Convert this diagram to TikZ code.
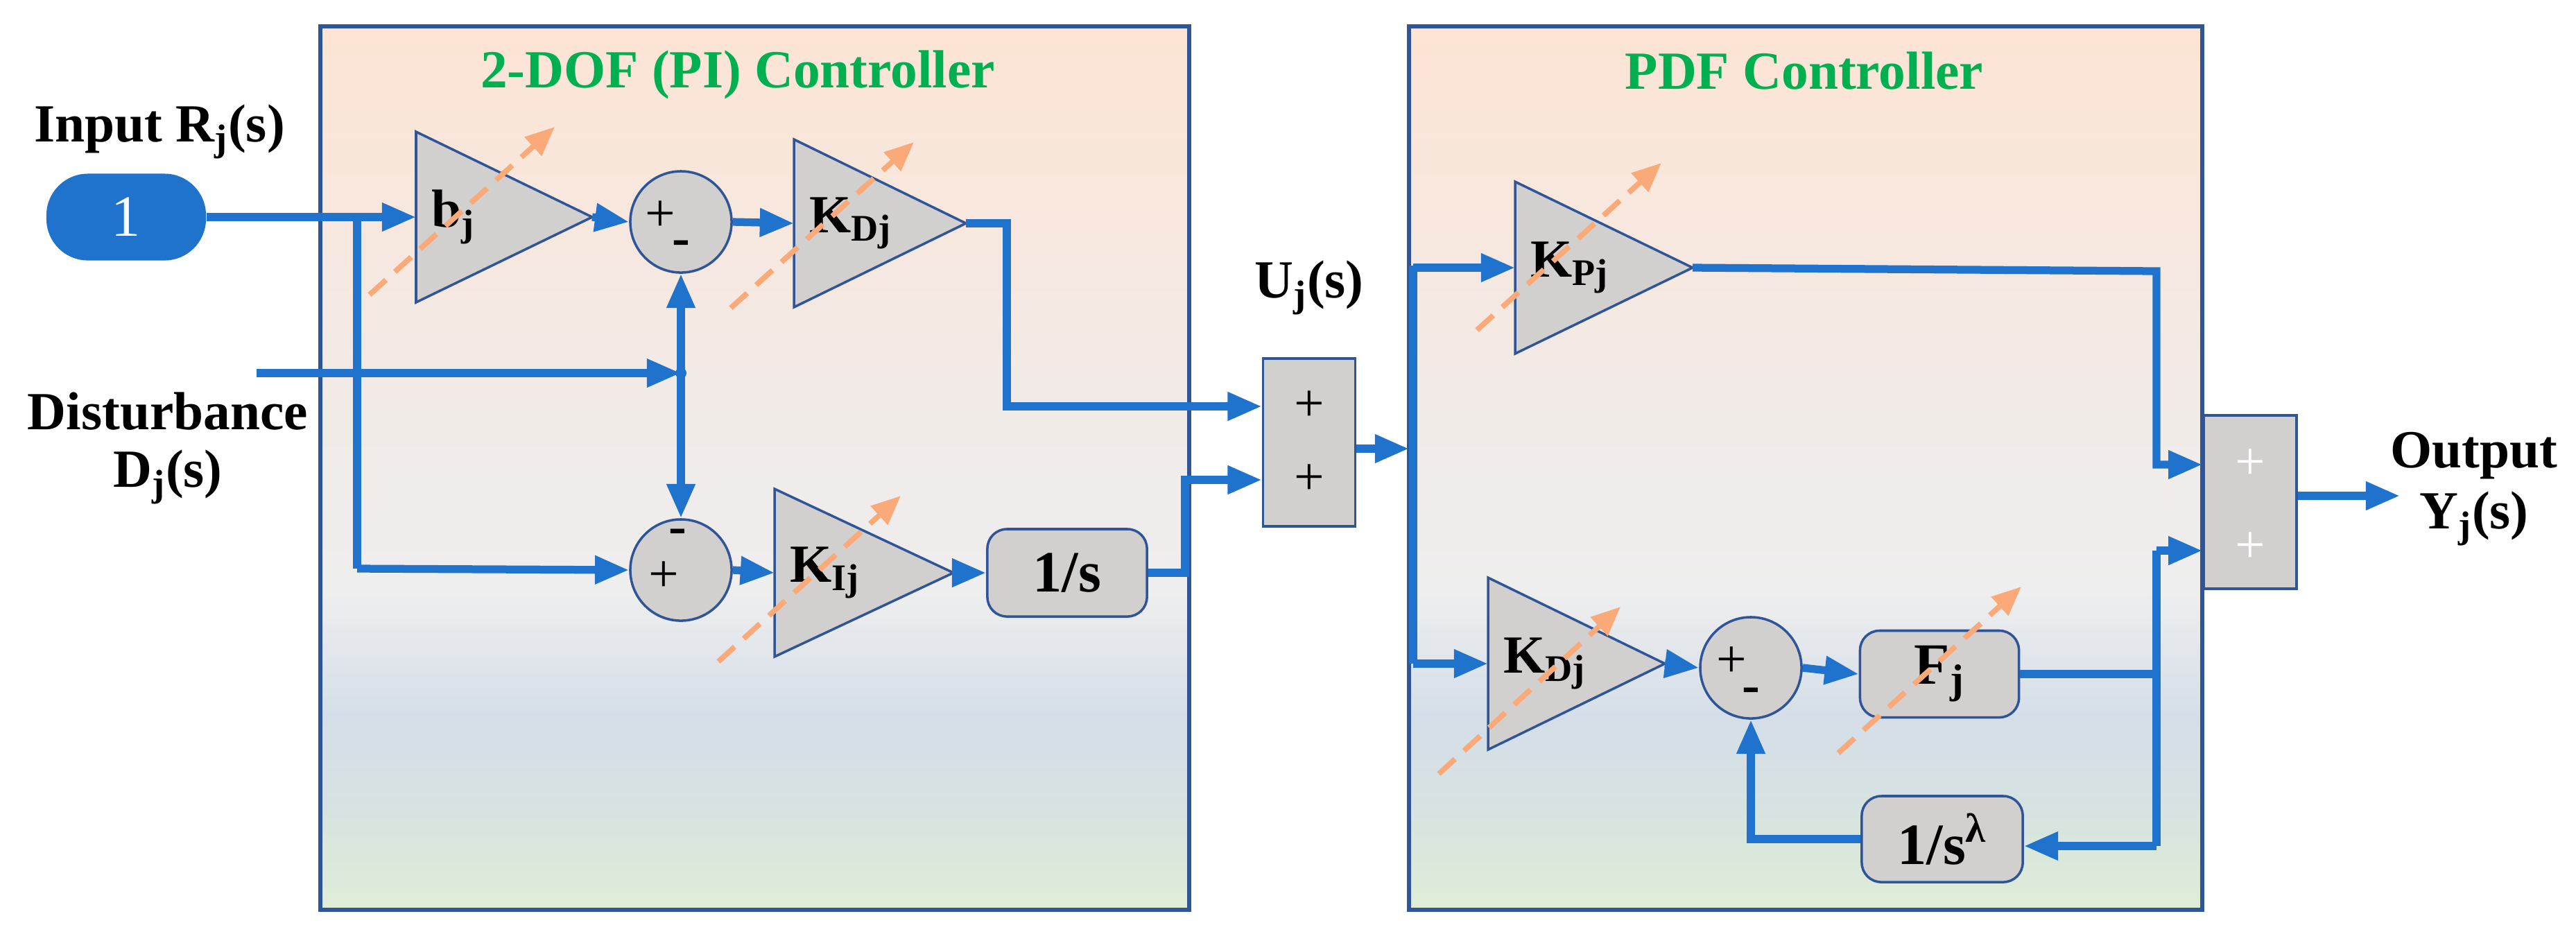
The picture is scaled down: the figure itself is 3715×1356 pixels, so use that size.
\documentclass[tikz,border=0pt]{standalone}
\usepackage{fontspec}
\setmainfont{Liberation Serif}
\usetikzlibrary{arrows.meta,calc}
\definecolor{ln}{RGB}{31,115,205}
\definecolor{bord}{RGB}{47,85,151}
\definecolor{gfill}{RGB}{210,207,207}
\definecolor{dash}{RGB}{250,170,120}
\definecolor{ttl}{RGB}{0,176,80}
\pgfdeclareverticalshading{bg}{100bp}{color(0bp)=(rgb,255:red,222;green,238;blue,214); color(25bp)=(rgb,255:red,222;green,238;blue,214); color(31bp)=(rgb,255:red,214;green,226;blue,226); color(36bp)=(rgb,255:red,213;green,222;blue,232); color(43bp)=(rgb,255:red,238;green,238;blue,238); color(55bp)=(rgb,255:red,242;green,234;blue,230); color(75bp)=(rgb,255:red,253;green,228;blue,212); color(100bp)=(rgb,255:red,253;green,228;blue,212)}
\tikzset{
 w/.style={draw=ln,line width=3.2pt},
 a/.style={w,-{Triangle[length=14pt,width=11pt]}},
 sm/.style={circle,draw=bord,fill=gfill,line width=1pt,minimum size=1.46cm,inner sep=0pt},
 bx/.style={draw=bord,fill=gfill,line width=1pt,rounded corners=8pt,inner sep=0pt,font=\bfseries\fontsize{24}{24}\selectfont},
 gn/.style={draw=bord,fill=gfill,line width=1pt},
 dsh/.style={draw=dash,line width=2.2pt,dash pattern=on 9pt off 5pt,-{Triangle[length=12pt,width=10pt]}},
 lb/.style={font=\bfseries\fontsize{22}{24}\selectfont},
 ttlst/.style={font=\bfseries\fontsize{22}{24}\selectfont,text=ttl},
 pm/.style={font=\fontsize{22}{22}\selectfont}
}
\begin{document}
\begin{tikzpicture}[x=0.01cm,y=-0.01cm]
\useasboundingbox (0,0) rectangle (3715,1356);
% panels
\shade[shading=bg,draw=bord,line width=1.6pt] (462,38) rectangle (1715,1312);
\shade[shading=bg,draw=bord,line width=1.6pt] (2032,38) rectangle (3176,1312);
\node[ttlst] (t1) at (1064,108) {2-DOF (PI) Controller};
\node[ttlst] (t2) at (2602,102) {PDF Controller};
% gains
\newcommand\gainblk[6]{% name,left,top,tip,bottom,label
 \path[gn] (#2,#3) -- (#4,{(#3+#5)/2}) -- (#2,#5) -- cycle;
 \coordinate (#1-in) at (#2,{(#3+#5)/2});
 \coordinate (#1-out) at (#4,{(#3+#5)/2});
 \node[lb,anchor=west] (#1-l) at ({#2+10},{(#3+#5)/2}) {#6};}
\gainblk{b}{600}{190}{854}{436}{b\textsubscript{j}}
\gainblk{kd}{1145}{201}{1393}{443}{K\textsubscript{Dj}}
\gainblk{ki}{1117}{705}{1375}{947}{K\textsubscript{Ij}}
\gainblk{kp}{2185}{262}{2441}{510}{K\textsubscript{Pj}}
\gainblk{kd2}{2146}{833}{2401}{1081}{K\textsubscript{Dj}}
% summers
\node[sm] (s1) at (982,320) {};
\node[pm] at ($(s1)+(-30,-8)$) {+};
\node[lb] at ($(s1)+(0,38)$) {-};
\node[sm] (s2) at (982,822) {};
\node[pm] at ($(s2)+(-25,10)$) {+};
\node[lb] at ($(s2)+(-5,-48)$) {-};
\node[sm] (s3) at (2525,963) {};
\node[pm] at ($(s3)+(-28,-8)$) {+};
\node[lb] at ($(s3)+(0,40)$) {-};
\node[bx,minimum width=2.3cm,minimum height=1.26cm] (is) at (1539,826) {1/s};
\node[bx,minimum width=2.29cm,minimum height=1.25cm] (fj) at (2797,972) {F\textsubscript{j}};
\node[bx,minimum width=2.32cm,minimum height=1.24cm] (sl) at (2801,1210) {1/s\textsuperscript{λ}};
\node[draw=bord,fill=gfill,line width=1pt,minimum width=1.33cm,minimum height=2.42cm] (su) at (1888,638) {};
\node[pm] at (1888,586) {+}; \node[pm] at (1888,692) {+};
\node[draw=bord,fill=gfill,line width=1pt,minimum width=1.34cm,minimum height=2.5cm] (so) at (3245,724) {};
\node[pm,text=white] at (3245,670) {+}; \node[pm,text=white] at (3245,790) {+};
% input
\node[fill=ln,rounded corners=17pt,minimum width=2.3cm,minimum height=1.25cm,text=white,font=\fontsize{24}{24}\selectfont] (in) at (182,313) {1};
\node[lb] (tin) at (230,190) {Input R\textsubscript{j}(s)};
\node[lb] (tdist) at (242,593) {Disturbance};
\node[lb] (tdj) at (242,688) {D\textsubscript{j}(s)};
\node[lb] (tu) at (1888,415) {U\textsubscript{j}(s)};
\node[lb] (tout) at (3568,657) {Output};
\node[lb] (ty) at (3568,748) {Y\textsubscript{j}(s)};
\coordinate (br) at (515,313);
\coordinate (dot) at (982,538);
\coordinate (dst) at (370,538);
% connectors
\draw[a] (in.east) -- (b-in);
\draw[w] (br) |- (515,820) coordinate (b2);
\draw[a] (b2) -- (s2.west);
\draw[a] (b-out) -- (s1.west);
\draw[a] (s1.east) -- (kd-in);
\draw[a] (kd-out) -- (1452,322) |- (su.west |- 586,586);
\draw[a] (dst) -- (dot);
\fill[ln] (dot) circle (8);
\draw[a] (dot) -- (s1.south);
\draw[a] (dot) -- (s2.north);
\draw[a] (s2.east) -- (ki-in);
\draw[a] (ki-out) -- (is.west);
\draw[a] (is.east) -- (1709,826) |- (su.west |- 692,692);
\draw[a] (su.east |- 647,647) -- (2032,647) coordinate (bus);
\draw[w] (2038,383) -- (2038,957);
\draw[a] (2038,386) -- (kp-in);
\draw[a] (2038,957) -- (kd2-in);
\draw[a] (kp-out) -- (3110,391) |- (so.west |- 670,670);
\draw[a] (kd2-out) -- (s3.west);
\draw[a] (s3.east) -- (fj.west);
\draw[w] (fj.east) -- (3110,972);
\draw[a] (3110,794) |- (so.west |- 794,794);
\draw[w] (3110,794) -- (3110,1220);
\draw[a] (3110,1220) -- (sl.east |- 1220,1220);
\draw[a] (sl.west) -| (s3.south);
\draw[a] (so.east |- 715,715) -- (3461,715);
% dashed tuning arrows
\draw[dsh] (533,425) -- (800,183);
\draw[dsh] (1054,444) -- (1318,205);
\draw[dsh] (1036,954) -- (1299,715);
\draw[dsh] (2130,476) -- (2396,235);
\draw[dsh] (2075,1116) -- (2337,875);
\draw[dsh] (2651,1086) -- (2915,846);
\end{tikzpicture}
\end{document}
